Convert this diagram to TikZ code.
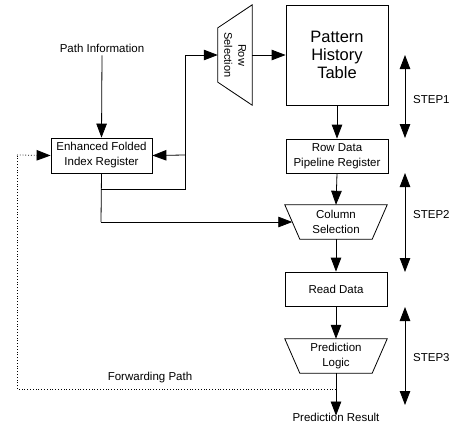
\documentclass[tikz,border=0pt]{standalone}
\usepackage{fontspec}
\setmainfont{Liberation Sans}
\usetikzlibrary{arrows.meta,calc}
\begin{document}
\begin{tikzpicture}[x=1pt,y=-1pt,
  every node/.style={font=\fontsize{11.5}{15}\selectfont, inner sep=0pt},
  boxn/.style={draw, line width=0.8pt, minimum width=102pt, minimum height=34pt, align=center},
  ghost/.style={minimum width=102pt, minimum height=34pt, align=center},
  ln/.style={line width=0.8pt},
  tip/.tip={Triangle[length=14pt,width=10.5pt]},
  arr/.style={line width=0.8pt, -tip},
  darr/.style={line width=0.8pt, tip-tip},
  fwd/.style={line width=0.8pt, dotted}
]
\useasboundingbox (0,0) rectangle (452,424);

% nodes
\node (pi) at (102,48) {Path Information};
\node[boxn, minimum width=101pt, minimum height=35pt] (efir) at (101.5,155.5) {Enhanced Folded\\Index Register};
\node[minimum width=34pt, minimum height=100pt] (rs) at (235,55) {};
\node[rotate=-90, align=center, font=\fontsize{11}{14}\selectfont] (rstext) at (rs) {Row\\Selection};
\draw[ln] (rs.north east) -- (rs.south east) -- ([yshift=23pt]rs.south west) -- ([yshift=-23pt]rs.north west) -- cycle;
\node[boxn, minimum height=100pt, font=\fontsize{16.5}{18}\selectfont] (pht) at (337,55) {Pattern\\History\\Table};
\node[boxn] (rdpr) at (337,156) {Row Data\\Pipeline Register};
\node[ghost] (col) at (336,222) {Column\\Selection};
\draw[ln] (col.north west) -- (col.north east) -- ([xshift=-15pt]col.south east) -- ([xshift=15pt]col.south west) -- cycle;
\node[boxn] (rd) at (336,289) {Read Data};
\node[ghost] (pl) at (336,356) {Prediction\\Logic};
\draw[ln] (pl.north west) -- (pl.north east) -- ([xshift=-15pt]pl.south east) -- ([xshift=15pt]pl.south west) -- cycle;
\node (pr) at (336,417) {Prediction Result};

\node[anchor=west] (st1) at (413,100) {STEP1};
\node[anchor=west] (st2) at (413,215) {STEP2};
\node[anchor=west] (st3) at (413,358) {STEP3};
\node (fp) at (150,378) {Forwarding Path};

% coordinates
\coordinate (j1) at (101,189);
\coordinate (j2) at (185,189);
\coordinate (j3) at (185,155);
\coordinate (j4) at (185,55);
\coordinate (j5) at (101,222);
\coordinate (f1) at (336,389);
\coordinate (f2) at (17,389);
\coordinate (f3) at (17,155);
\coordinate (s1a) at (405,55);
\coordinate (s1b) at (405,138);
\coordinate (s2a) at (405,173);
\coordinate (s2b) at (405,272);
\coordinate (s3a) at (405,307);
\coordinate (s3b) at (405,405);

% connectors
\draw[arr] ([yshift=-3pt]pi.south) -- (efir.north);
\draw[ln] (efir.south) -- (j5);
\draw[arr] (j5) -- ($(col.west)+(7.5,0)$);
\draw[ln] (j1) -- (j2) -- (j4);
\draw[arr] (j4) -- (rs.west);
\draw[arr] (j3) -- (efir.east);
\draw[arr] (rs.east) -- (pht.west);
\draw[arr] (pht.south) -- (rdpr.north);
\draw[arr] (rdpr.south) -- (col.north);
\draw[arr] (col.south) -- (rd.north);
\draw[arr] (rd.south) -- (pl.north);
\draw[arr] (pl.south) -- ([yshift=-3pt]pr.north);
\draw[fwd] (f1) -- (f2) -- (f3);
\draw[fwd, -tip] (f3) -- (efir.west);

\draw[darr] (s1a) -- (s1b);
\draw[darr] (s2a) -- (s2b);
\draw[darr] (s3a) -- (s3b);
\end{tikzpicture}
\end{document}
